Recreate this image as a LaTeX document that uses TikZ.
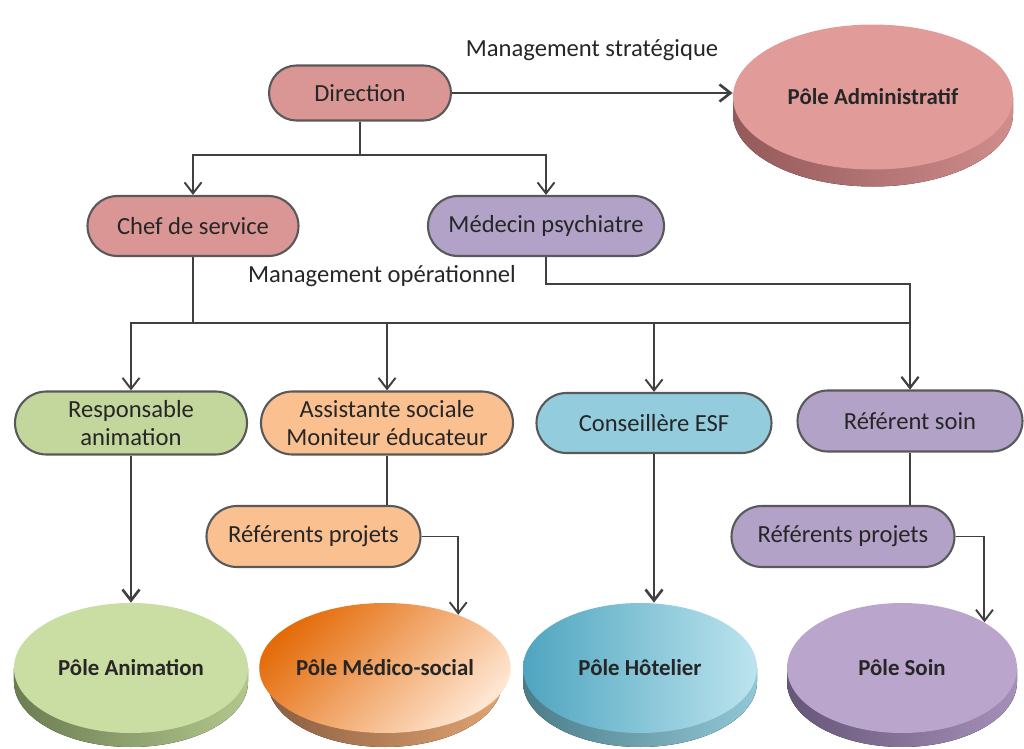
\documentclass[tikz,border=0pt]{standalone}
\usepackage{fontspec}
\setmainfont{Carlito}
\usetikzlibrary{shapes.misc,shapes.geometric,arrows.meta}

\definecolor{lineGray}{HTML}{595959}
\definecolor{linkGray}{HTML}{404040}
\definecolor{txtGray}{HTML}{262626}
\definecolor{redBox}{HTML}{D99694}
\definecolor{purpleBox}{HTML}{B3A2C7}
\definecolor{greenBox}{HTML}{C3D69B}
\definecolor{orangeBox}{HTML}{FAC090}
\definecolor{blueBox}{HTML}{93CDDD}
\definecolor{adminTop}{HTML}{E19C9A}
\definecolor{adminSideD}{HTML}{94595A}
\definecolor{adminSideL}{HTML}{D08D8B}
\definecolor{animTop}{HTML}{CADDA2}
\definecolor{animSideD}{HTML}{6C7D52}
\definecolor{animSideL}{HTML}{B2C78C}
\definecolor{medDark}{HTML}{E46C0A}
\definecolor{medLight}{HTML}{FFE6D2}
\definecolor{medSideD}{HTML}{8A5E40}
\definecolor{medSideL}{HTML}{E2A472}
\definecolor{hotDark}{HTML}{4FA5BF}
\definecolor{hotLight}{HTML}{BCE4EF}
\definecolor{hotSideD}{HTML}{4C7C89}
\definecolor{hotSideL}{HTML}{92C8D6}
\definecolor{soinTop}{HTML}{BAA6CD}
\definecolor{soinSideD}{HTML}{665678}
\definecolor{soinSideL}{HTML}{A690BA}

% side of a disk: centre x, centre y, x radius, y radius, depth, dark, light
\newcommand{\diskside}[7]{%
  \fill[left color=#6, right color=#7] (#1-#3,#2) -- (#1-#3,#2-#5)
    arc[start angle=180, end angle=360, x radius=#3, y radius=#4] -- (#1+#3,#2) -- cycle;}

\tikzset{
  box/.style={rounded rectangle, draw=lineGray, line width=1.2pt, text=txtGray,
    font=\fontsize{14}{16}\selectfont, align=center, minimum height=1.2cm, inner sep=2pt},
  pole/.style={ellipse, minimum width=4.68cm, minimum height=2.6cm, inner sep=0pt,
    text=txtGray, font=\fontsize{13}{15}\selectfont\bfseries},
  lbl/.style={text=txtGray, font=\fontsize{14}{16}\selectfont},
  link/.style={draw=linkGray, line width=1.1pt},
  arr/.style={link, -{Straight Barb[length=2.2mm,width=3.4mm]}},
  bigarr/.style={arr, line width=1.5pt},
}

\begin{document}
\begin{tikzpicture}
    \useasboundingbox (0,0) rectangle (20.48,-14.98);

    % Management
    \node[box, fill=redBox, minimum width=3.78cm, minimum height=1.1cm] (dir) at (7.2,-1.86) {Direction};
    \node[box, fill=redBox, minimum width=4.36cm] (chef) at (3.86,-4.52) {Chef de service};
    \node[box, fill=purpleBox, minimum width=4.86cm] (medecin) at (10.92,-4.52) {Médecin psychiatre};
    \node[lbl] (mgmtS) at (11.84,-1.0) {Management stratégique};
    \node[lbl] (mgmtO) at (7.64,-5.52) {Management opérationnel};

    % Staff
    \node[box, fill=greenBox, minimum width=4.78cm, minimum height=1.26cm] (resp) at (2.62,-8.46) {Responsable\\animation};
    \node[box, fill=orangeBox, minimum width=5.18cm, minimum height=1.26cm] (assist) at (7.74,-8.46) {Assistante sociale\\Moniteur éducateur};
    \node[box, fill=blueBox, minimum width=4.84cm] (conseil) at (13.08,-8.46) {Conseillère ESF};
    \node[box, fill=purpleBox, minimum width=4.64cm, minimum height=1.22cm] (soin) at (18.2,-8.42) {Référent soin};
    \node[box, fill=orangeBox, minimum width=4.42cm, minimum height=1.22cm] (refA) at (6.27,-10.73) {Référents projets};
    \node[box, fill=purpleBox, minimum width=4.6cm, minimum height=1.22cm] (refB) at (16.86,-10.73) {Référents projets};

    % Poles (disks)
    \diskside{17.46}{-1.94}{2.8}{1.45}{0.34}{adminSideD}{adminSideL}
    \node[pole, fill=adminTop, minimum width=5.6cm, minimum height=2.9cm] (admin) at (17.46,-1.94) {Pôle Administratif};
    \diskside{2.62}{-13.36}{2.34}{1.3}{0.28}{animSideD}{animSideL}
    \node[pole, fill=animTop] (anim) at (2.62,-13.36) {Pôle Animation};
    \diskside{7.7}{-13.36}{2.34}{1.3}{0.28}{medSideD}{medSideL}
    \node[pole, top color=medDark, bottom color=medLight, shading angle=45] (medico) at (7.7,-13.36) {Pôle Médico-social};
    \diskside{12.8}{-13.36}{2.34}{1.3}{0.28}{hotSideD}{hotSideL}
    \node[pole, left color=hotDark, right color=hotLight] (hotel) at (12.8,-13.36) {Pôle Hôtelier};
    \diskside{18.04}{-13.36}{2.3}{1.3}{0.28}{soinSideD}{soinSideL}
    \node[pole, fill=soinTop, minimum width=4.6cm] (soinPole) at (18.04,-13.36) {Pôle Soin};

    % Connectors
    \coordinate (split) at (7.2,-3.1);
    \coordinate (bus) at (3.86,-6.46);
    \coordinate (medTurn) at (18.2,-5.68);

    \draw[bigarr] (dir.east) -- (dir.east -| admin.west);
    \draw[link] (dir.south) -- (split);
    \draw[arr] (split) -| (chef);
    \draw[arr] (split) -| (medecin);

    \draw[link] (chef.south) -- (bus);
    \draw[arr] (bus) -| (resp);
    \draw[arr] (bus) -| (soin);
    \draw[arr] (assist |- bus) -- (assist);
    \draw[arr] (conseil |- bus) -- (conseil);
    \draw[arr] (medecin.south) |- (medTurn) -- (soin);

    \draw[link] (assist.south) -- (assist.south |- refA.north);
    \draw[link] (soin.south) -- (soin.south |- refB.north);
    \draw[arr] (refA.east) -| (medico.36);
    \draw[arr] (refB.east) -| (soinPole.29);
    \draw[bigarr] (resp.south) -- (anim);
    \draw[bigarr] (conseil.south) -- (conseil.south |- hotel.north);
\end{tikzpicture}
\end{document}
